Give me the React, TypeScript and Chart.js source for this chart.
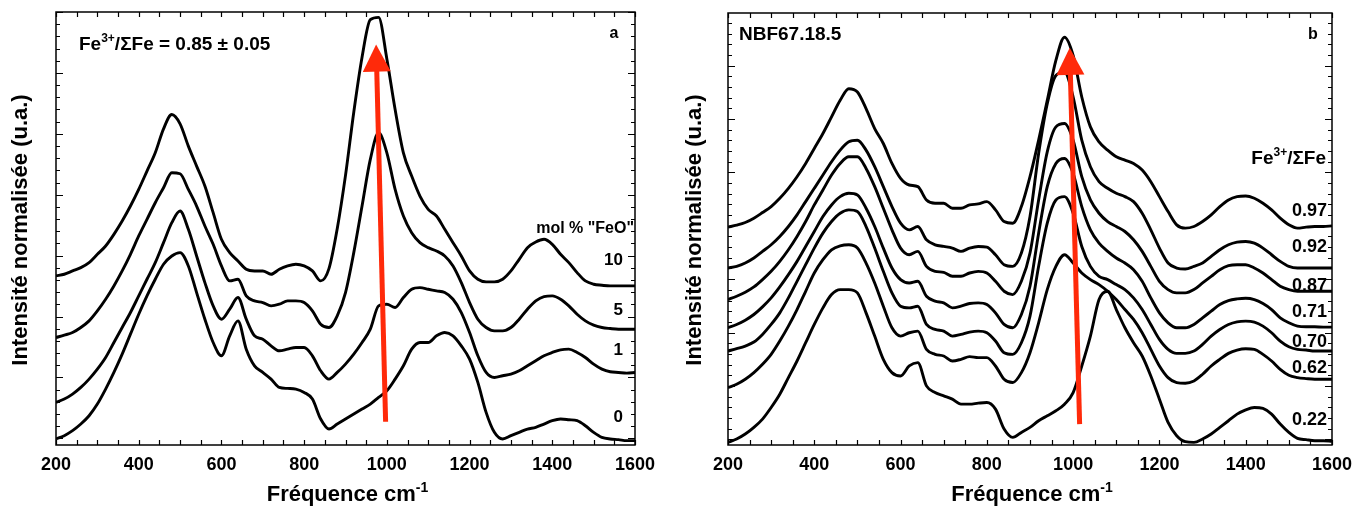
import React, { useEffect, useRef } from "react";
import { Chart, registerables } from "chart.js";

Chart.register(...registerables);

// Raman shift grid (cm-1)
const FREQ = [
  200, 220, 240, 260, 280, 300, 320, 340, 360, 380,
  400, 420, 440, 460, 480, 500, 520, 540, 560, 580,
  600, 620, 640, 660, 680, 700, 720, 740, 760, 780,
  800, 820, 840, 860, 880, 900, 920, 940, 960, 980,
  1000, 1020, 1040, 1060, 1080, 1100, 1120, 1140, 1160, 1180,
  1200, 1220, 1240, 1260, 1280, 1300, 1320, 1340, 1360, 1380,
  1400, 1420, 1440, 1460, 1480, 1500, 1520, 1540, 1560, 1580,
  1600,
];

const X_TICK_LABELS = [200, 400, 600, 800, 1000, 1200, 1400, 1600];

// Panel a : mol % "FeO" (stacked, normalised intensity, a.u.)
const FEO_10 = [
  508, 513, 523, 533, 548, 573, 598, 633, 673, 718,
  768, 823, 878, 950, 993, 965, 898, 838, 778, 698,
  618, 578, 553, 528, 523, 523, 513, 528, 538, 543,
  538, 523, 493, 530, 650, 810, 1000, 1165, 1278, 1285,
  1160, 1008, 878, 808, 748, 708, 688, 648, 608, 568,
  523, 498, 490, 490, 498, 523, 558, 593, 610, 618,
  603, 573, 548, 518, 493, 483, 480, 478, 478, 478,
  478,
];
const FEO_5 = [
  323, 330, 338, 353, 373, 403, 438, 478, 523, 573,
  628, 678, 728, 773, 818, 815, 768, 718, 658, 603,
  538, 493, 498, 448, 433, 428, 418, 423, 433, 433,
  428, 403, 363, 353, 388, 458, 578, 718, 858, 938,
  878, 768, 688, 638, 608, 593, 583, 568, 538, 488,
  428, 378, 353, 343, 343, 353, 378, 408, 433, 446,
  448, 438, 418, 393, 373, 360, 353, 350, 348, 348,
  348,
];
const FEO_1 = [
  128, 138, 153, 173, 198, 228, 263, 308, 353, 398,
  448, 498, 548, 608, 668, 703, 648, 568, 488, 418,
  378, 408, 443, 378, 328, 318, 298, 283, 288, 293,
  293, 268, 223, 198, 218, 243, 273, 308, 348, 418,
  423, 413, 443, 468, 473, 468, 463, 458, 438, 398,
  338, 268, 218, 203, 208, 213, 223, 238, 253, 268,
  278, 286, 288, 278, 263, 243, 228, 220, 218, 216,
  218,
];
const FEO_0 = [
  18, 28, 43, 63, 88, 123, 168, 218, 273, 333,
  393, 448, 498, 543, 568, 578, 538, 458, 378, 308,
  268, 328, 373, 288, 238, 218, 198, 173, 170, 168,
  158, 138, 78, 48, 63, 78, 93, 108, 123, 143,
  163, 198, 238, 288, 308, 308, 328, 338, 328, 298,
  258, 188, 98, 38, 18, 28, 38, 48, 53, 63,
  73, 78, 76, 73, 58, 38, 23, 18, 16, 13,
  13,
];

// Panel b : NBF67.18.5, Fe3+/ΣFe series
const R097 = [
  656, 662, 670, 683, 700, 718, 743, 773, 808, 848,
  893, 938, 988, 1038, 1073, 1063, 1013, 953, 908, 848,
  803, 783, 778, 738, 728, 728, 713, 713, 723, 726,
  733, 708, 673, 668, 718, 808, 918, 1038, 1158, 1228,
  1173, 1048, 958, 913, 888, 868, 858, 848, 828, 793,
  748, 703, 663, 653, 658, 673, 693, 718, 738, 748,
  750, 743, 728, 708, 683, 663, 653, 656, 658, 658,
  660,
];
const R092 = [
  533, 538, 548, 563, 583, 603, 628, 658, 693, 733,
  773, 813, 853, 888, 913, 918, 888, 838, 778, 718,
  668, 648, 658, 618, 603, 598, 593, 583, 593, 598,
  596, 573, 543, 538, 578, 688, 878, 1028, 1113, 1123,
  1048, 918, 838, 793, 773, 758, 748, 733, 698, 648,
  593, 548, 533, 530, 538, 548, 568, 588, 603, 611,
  613, 608, 593, 573, 553, 538, 533, 533, 533, 533,
  533,
];
const R087 = [
  438, 448, 460, 476, 498, 523, 553, 588, 628, 673,
  723, 768, 813, 848, 868, 868, 833, 778, 713, 648,
  593, 573, 583, 538, 523, 520, 508, 508, 518, 523,
  518, 493, 463, 453, 493, 578, 738, 883, 958, 968,
  918, 808, 738, 698, 673, 658, 643, 618, 583, 538,
  493, 468, 458, 458, 468, 488, 508, 528, 540, 543,
  543, 533, 518, 498, 478, 468, 463, 463, 463, 463,
  463,
];
const R071 = [
  353, 363, 376, 393, 416, 443, 476, 513, 553, 598,
  643, 688, 723, 748, 758, 753, 713, 658, 593, 533,
  498, 488, 493, 448, 433, 428, 413, 418, 426, 428,
  423, 398, 363, 353, 393, 478, 638, 778, 848, 863,
  818, 718, 648, 608, 583, 563, 548, 528, 493, 443,
  398, 368, 353, 353, 363, 383, 403, 423, 435, 440,
  442, 438, 426, 408, 383, 368, 358, 356, 356, 355,
  355,
];
const R070 = [
  283, 290, 298, 310, 333, 363, 398, 443, 493, 543,
  593, 638, 673, 698, 708, 703, 658, 593, 523, 458,
  418, 413, 418, 363, 348, 343, 328, 333, 340, 343,
  338, 313, 278, 273, 308, 388, 538, 668, 738, 748,
  698, 598, 538, 508, 498, 483, 468, 443, 408, 363,
  318, 288, 276, 276, 283, 303, 328, 348, 363, 371,
  373, 370, 358, 338, 313, 296, 288, 286, 283, 283,
  283,
];
const R062 = [
  173, 183, 198, 218, 243, 273, 313, 358, 408, 463,
  518, 558, 588, 600, 603, 593, 548, 488, 418, 353,
  328, 338, 343, 288, 273, 268, 253, 258, 266, 263,
  263, 238, 198, 188, 218, 278, 368, 468, 538, 573,
  548, 518, 498, 483, 463, 438, 408, 378, 338, 288,
  238, 203, 188, 186, 193, 213, 238, 258, 276, 286,
  290, 288, 273, 253, 228, 210, 203, 200, 198, 198,
  198,
];
const R022 = [
  8, 18, 33, 53, 78, 113, 153, 203, 253, 308,
  363, 413, 453, 468, 468, 458, 398, 328, 258, 218,
  208, 238, 248, 178, 158, 148, 138, 123, 123, 126,
  128, 108, 48, 23, 38, 53, 73, 88, 103, 123,
  158, 238, 328, 438, 463, 408, 353, 308, 268, 208,
  138, 68, 28, 10, 8, 18, 33, 53, 73, 93,
  106, 113, 110, 93, 63, 38, 20, 16, 13, 13,
  11,
];

// Arrows (data coordinates: [freq, intensity])
const ARROW_A = [[997, 70], [974, 1203]];
const ARROW_B = [[1015, 63], [992, 1196]];

const FONT = '"Liberation Sans", Arial, Helvetica, sans-serif';

type Part = { t: string; sup?: boolean };
type TextItem = { parts: Part[]; x: number; y: number; size: number; align: "left" | "right" | "center" };

interface PanelCfg {
  series: number[][];
  yMax: number;
  yTickStart: number;
  yTickStep: number;
  padding: { left: number; right: number; top: number; bottom: number };
  yTitleX: number;
  texts: TextItem[];
  arrow: number[][];
}

function partFont(size: number, sup?: boolean) {
  return `bold ${sup ? Math.round(size * 0.62) : size}px ${FONT}`;
}

function drawRich(ctx: CanvasRenderingContext2D, item: TextItem) {
  const { parts, x, y, size, align } = item;
  let total = 0;
  const widths = parts.map((p) => {
    ctx.font = partFont(size, p.sup);
    const w = ctx.measureText(p.t).width;
    total += w;
    return w;
  });
  let cx = align === "right" ? x - total : align === "center" ? x - total / 2 : x;
  ctx.textAlign = "left";
  ctx.textBaseline = "alphabetic";
  ctx.fillStyle = "#000";
  parts.forEach((p, i) => {
    ctx.font = partFont(size, p.sup);
    ctx.fillText(p.t, cx, p.sup ? y - size * 0.4 : y);
    cx += widths[i];
  });
}

function makeDecor(cfg: PanelCfg) {
  return {
    id: "decor",
    afterDatasetsDraw(chart: any) {
      const ctx: CanvasRenderingContext2D = chart.ctx;
      const { left, right, top, bottom } = chart.chartArea;
      const xs = chart.scales.x;
      const ys = chart.scales.y;
      ctx.save();

      // red arrow
      const [a0, a1] = cfg.arrow;
      const p0x = xs.getPixelForValue(a0[0]);
      const p0y = ys.getPixelForValue(a0[1]);
      const p1x = xs.getPixelForValue(a1[0]);
      const p1y = ys.getPixelForValue(a1[1]);
      const dx = p1x - p0x;
      const dy = p1y - p0y;
      const len = Math.hypot(dx, dy);
      const ux = dx / len;
      const uy = dy / len;
      const headLen = 27;
      const headHalf = 14;
      const bx = p1x - ux * headLen;
      const by = p1y - uy * headLen;
      ctx.strokeStyle = "#ff2a0a";
      ctx.fillStyle = "#ff2a0a";
      ctx.lineWidth = 5;
      ctx.beginPath();
      ctx.moveTo(p0x, p0y);
      ctx.lineTo(bx + ux * 2, by + uy * 2);
      ctx.stroke();
      ctx.beginPath();
      ctx.moveTo(p1x, p1y);
      ctx.lineTo(bx - uy * headHalf, by + ux * headHalf);
      ctx.lineTo(bx + uy * headHalf, by - ux * headHalf);
      ctx.closePath();
      ctx.fill();

      // frame
      ctx.strokeStyle = "#000";
      ctx.lineWidth = 1.5;
      ctx.strokeRect(left, top, right - left, bottom - top);

      // x ticks (inward, top & bottom)
      ctx.lineWidth = 1.2;
      ctx.beginPath();
      for (let f = xs.min; f <= xs.max + 0.001; f += 50) {
        const px = Math.round(xs.getPixelForValue(f)) + 0.5;
        ctx.moveTo(px, bottom);
        ctx.lineTo(px, bottom - 5);
        ctx.moveTo(px, top);
        ctx.lineTo(px, top + 5);
      }
      // y ticks (inward, left & right)
      const minor = cfg.yTickStep / 5;
      let k = 0;
      for (let v = cfg.yTickStart; v <= cfg.yMax + 0.5; v += minor, k++) {
        const py = Math.round(ys.getPixelForValue(v)) + 0.5;
        const l = k % 5 === 0 ? 7 : 4;
        ctx.moveTo(left, py);
        ctx.lineTo(left + l, py);
        ctx.moveTo(right, py);
        ctx.lineTo(right - l, py);
      }
      ctx.stroke();

      // x tick labels
      ctx.fillStyle = "#000";
      ctx.font = `bold 18px ${FONT}`;
      ctx.textAlign = "center";
      ctx.textBaseline = "middle";
      X_TICK_LABELS.forEach((f) => {
        ctx.fillText(String(f), xs.getPixelForValue(f), bottom + 20);
      });

      // x title with superscript
      drawRich(ctx, {
        parts: [{ t: "Fréquence cm" }, { t: "-1", sup: true }],
        x: (left + right) / 2 + 2,
        y: bottom + 56,
        size: 22,
        align: "center",
      });

      // y title rotated
      ctx.save();
      ctx.translate(cfg.yTitleX, 230);
      ctx.rotate(-Math.PI / 2);
      ctx.font = `bold 22px ${FONT}`;
      ctx.textAlign = "center";
      ctx.textBaseline = "middle";
      ctx.fillText("Intensité normalisée (u.a.)", 0, 0);
      ctx.restore();

      cfg.texts.forEach((t) => drawRich(ctx, t));
      ctx.restore();
    },
  };
}

const PANEL_A: PanelCfg = {
  series: [FEO_10, FEO_5, FEO_1, FEO_0],
  yMax: 1301,
  yTickStart: 20,
  yTickStep: 183,
  padding: { left: 56, right: 43, top: 12, bottom: 62 },
  yTitleX: 21,
  arrow: ARROW_A,
  texts: [
    { parts: [{ t: "Fe" }, { t: "3+", sup: true }, { t: "/ΣFe = 0.85 ± 0.05" }], x: 79, y: 50, size: 19, align: "left" },
    { parts: [{ t: "a" }], x: 614, y: 38, size: 16, align: "center" },
    { parts: [{ t: 'mol % "FeO"' }], x: 634, y: 233, size: 16, align: "right" },
    { parts: [{ t: "10" }], x: 623, y: 265, size: 17, align: "right" },
    { parts: [{ t: "5" }], x: 623, y: 315, size: 17, align: "right" },
    { parts: [{ t: "1" }], x: 623, y: 355, size: 17, align: "right" },
    { parts: [{ t: "0" }], x: 623, y: 422, size: 17, align: "right" },
  ],
};

const PANEL_B: PanelCfg = {
  series: [R097, R092, R087, R071, R070, R062, R022],
  yMax: 1301,
  yTickStart: 17,
  yTickStep: 160.8,
  padding: { left: 50, right: 23, top: 13, bottom: 62 },
  yTitleX: 17,
  arrow: ARROW_B,
  texts: [
    { parts: [{ t: "NBF67.18.5" }], x: 61, y: 40, size: 19, align: "left" },
    { parts: [{ t: "b" }], x: 635, y: 39, size: 16, align: "center" },
    { parts: [{ t: "Fe" }, { t: "3+", sup: true }, { t: "/ΣFe" }], x: 648, y: 164, size: 19, align: "right" },
    { parts: [{ t: "0.97" }], x: 649, y: 216, size: 18, align: "right" },
    { parts: [{ t: "0.92" }], x: 649, y: 252, size: 18, align: "right" },
    { parts: [{ t: "0.87" }], x: 649, y: 291, size: 18, align: "right" },
    { parts: [{ t: "0.71" }], x: 649, y: 317, size: 18, align: "right" },
    { parts: [{ t: "0.70" }], x: 649, y: 347, size: 18, align: "right" },
    { parts: [{ t: "0.62" }], x: 649, y: 373, size: 18, align: "right" },
    { parts: [{ t: "0.22" }], x: 649, y: 425, size: 18, align: "right" },
  ],
};

function Panel({ cfg, left, width }: { cfg: PanelCfg; left: number; width: number }) {
  const ref = useRef<HTMLCanvasElement>(null);
  useEffect(() => {
    if (!ref.current) return;
    const chart = new Chart(ref.current, {
      type: "line",
      data: {
        datasets: cfg.series.map((s, i) => ({
          label: `s${i}`,
          data: FREQ.map((f, j) => ({ x: f, y: s[j] })),
          borderColor: "#000",
          borderWidth: 2.9,
          pointRadius: 0,
          fill: false,
          cubicInterpolationMode: "monotone" as const,
        })),
      },
      options: {
        responsive: false,
        animation: false,
        devicePixelRatio: 1,
        layout: { padding: cfg.padding },
        plugins: { legend: { display: false }, tooltip: { enabled: false } },
        scales: {
          x: { type: "linear", min: 200, max: 1600, display: false },
          y: { type: "linear", min: 0, max: cfg.yMax, display: false },
        },
      },
      plugins: [makeDecor(cfg)],
    });
    return () => chart.destroy();
  }, [cfg]);
  return (
    <canvas
      ref={ref}
      width={width}
      height={507}
      style={{ position: "absolute", left, top: 0, width, height: 507 }}
    />
  );
}

export default function App() {
  useEffect(() => {
    document.body.style.margin = "0";
    document.body.style.background = "#fff";
  }, []);
  return (
    <div style={{ position: "relative", width: 1355, height: 507, background: "#fff" }}>
      <Panel cfg={PANEL_A} left={0} width={678} />
      <Panel cfg={PANEL_B} left={678} width={677} />
    </div>
  );
}
